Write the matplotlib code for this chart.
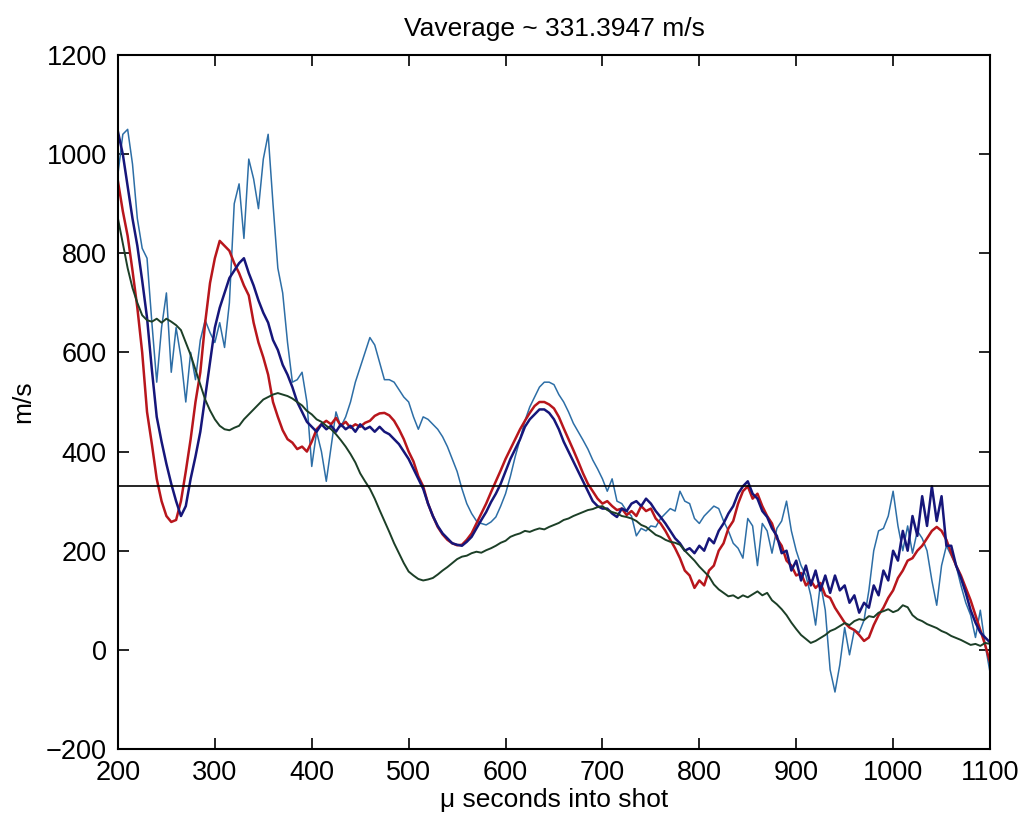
import numpy as np
import matplotlib
matplotlib.use('Agg')
import matplotlib.pyplot as plt

plt.rcParams['font.family'] = ['Liberation Sans', 'DejaVu Sans']

v_average = 331.3947

# time axis, micro seconds into shot (5 us steps)
t_us = np.arange(200, 1101, 5)

red_v = [945, 885, 835, 765, 690, 600, 480, 415, 345, 300,
         270, 258, 262, 300, 360, 425, 500, 560, 660, 740,
         790, 825, 815, 805, 780, 760, 735, 715, 660, 620,
         590, 555, 500, 470, 443, 425, 418, 405, 410, 400,
         420, 445, 455, 462, 455, 468, 452, 460, 448, 455,
         450, 458, 462, 472, 477, 478, 473, 462, 445, 425,
         400, 380, 350, 330, 295, 270, 248, 233, 222, 215,
         211, 212, 222, 235, 255, 275, 295, 318, 340, 362,
         385, 405, 425, 445, 462, 478, 492, 500, 500, 495,
         487, 470, 447, 425, 403, 380, 356, 335, 320, 305,
         295, 300, 290, 282, 285, 272, 280, 270, 290, 280,
         285, 265, 255, 240, 222, 205, 185, 160, 150, 125,
         140, 130, 160, 170, 200, 215, 245, 260, 295, 320,
         330, 305, 315, 290, 270, 255, 225, 210, 180, 170,
         150, 155, 130, 140, 125, 135, 110, 105, 85, 70,
         55, 45, 40, 30, 18, 25, 50, 70, 85, 105,
         120, 145, 160, 180, 185, 200, 210, 225, 240, 248,
         240, 222, 195, 170, 150, 125, 100, 70, 40, 10,
         -25]

navy_v = [1045, 1000, 935, 870, 815, 745, 670, 565, 470, 420,
          375, 335, 300, 270, 290, 345, 390, 440, 510, 580,
          650, 690, 720, 750, 765, 780, 790, 760, 735, 705,
          680, 660, 625, 605, 575, 555, 530, 500, 480, 460,
          450, 440, 455, 445, 452, 440, 455, 445, 452, 440,
          455, 445, 450, 440, 450, 440, 435, 425, 415, 400,
          385, 365, 345, 325, 295, 270, 250, 235, 225, 215,
          212, 210, 218, 228, 245, 262, 278, 298, 315, 335,
          360, 385, 405, 425, 450, 465, 475, 485, 485, 478,
          465, 445, 420, 400, 380, 360, 340, 320, 300, 290,
          285, 285, 275, 268, 285, 280, 295, 300, 290, 305,
          295, 280, 268, 255, 240, 225, 215, 200, 205, 195,
          210, 200, 225, 215, 240, 255, 275, 290, 315, 330,
          340, 315, 305, 280, 268, 245, 230, 195, 200, 160,
          180, 140, 170, 130, 160, 120, 150, 115, 150, 120,
          130, 95, 110, 75, 95, 85, 130, 110, 160, 140,
          200, 180, 240, 200, 270, 230, 310, 250, 330, 260,
          310, 210, 210, 170, 145, 115, 80, 55, 35, 25,
          15]

steel_v = [960, 1040, 1050, 980, 870, 810, 790, 660, 540, 650,
           720, 560, 650, 590, 500, 600, 545, 625, 665, 640,
           620, 660, 610, 700, 900, 940, 830, 990, 950, 890,
           990, 1040, 900, 770, 720, 620, 540, 545, 560, 500,
           370, 440, 400, 340, 410, 480, 450, 470, 500, 540,
           570, 600, 630, 615, 580, 545, 545, 540, 525, 510,
           500, 470, 445, 470, 465, 455, 445, 430, 410, 385,
           360, 325, 295, 275, 260, 255, 252, 258, 268, 290,
           315, 350, 390, 425, 462, 490, 510, 530, 540, 540,
           535, 515, 500, 480, 457, 440, 423, 405, 383, 365,
           345, 320, 345, 300, 295, 280, 270, 230, 245, 240,
           250, 248, 265, 275, 285, 280, 320, 300, 295, 265,
           255, 270, 280, 290, 285, 260, 240, 215, 205, 185,
           265, 250, 170, 255, 240, 195, 245, 260, 300, 240,
           200, 170, 150, 110, 50, 135, 80, -40, -85, -30,
           45, -10, 40, 35, 60, 120, 200, 240, 245, 270,
           320, 250, 200, 250, 195, 240, 225, 200, 140, 90,
           170, 210, 190, 170, 130, 95, 70, 25, 80, 10,
           -45]

green_v = [870, 820, 770, 730, 700, 675, 665, 662, 668, 660,
           668, 662, 655, 645, 620, 595, 565, 535, 505, 483,
           465, 452, 445, 443, 448, 452, 465, 475, 485, 495,
           505, 510, 515, 518, 515, 512, 507, 500, 493, 482,
           475, 465, 460, 452, 445, 435, 423, 410, 395, 378,
           356, 340, 325, 305, 282, 260, 238, 215, 195, 175,
           158, 150, 143, 140, 142, 145, 152, 160, 167, 175,
           183, 188, 190, 195, 198, 196, 201, 205, 210, 216,
           220, 228, 232, 235, 240, 238, 242, 245, 243, 248,
           252, 256, 262, 265, 270, 274, 278, 282, 284, 288,
           290, 282, 278, 275, 270, 268, 265, 260, 252, 248,
           240, 232, 228, 222, 218, 216, 212, 200, 190, 180,
           168, 158, 148, 132, 122, 115, 108, 110, 104, 110,
           106, 112, 118, 110, 115, 100, 92, 82, 70, 55,
           42, 30, 22, 14, 18, 24, 30, 38, 42, 48,
           54, 50, 58, 62, 60, 68, 66, 75, 78, 82,
           76, 80, 90, 86, 70, 62, 58, 52, 48, 44,
           38, 34, 28, 24, 20, 15, 10, 12, 8, 14,
           12]

fig = plt.figure(figsize=(10.24, 8.23), dpi=100)
ax = fig.add_axes([0.1152, 0.0899, 0.8516, 0.8433])

ax.plot(t_us, steel_v, color='#2d6ea6', lw=1.1)
ax.plot(t_us, red_v, color='#b8161c', lw=1.8)
ax.plot(t_us, navy_v, color='#16167a', lw=1.8)
ax.plot(t_us, green_v, color='#1c3f27', lw=1.4)
ax.plot([200, 1100], [v_average, v_average], color='black', lw=1.2)

ax.set_xlim(200, 1100)
ax.set_ylim(-200, 1200)
ax.set_xticks(np.arange(200, 1101, 100))
ax.set_yticks(np.arange(-200, 1201, 200))
ax.tick_params(direction='in', length=8, width=1.2, top=True, right=True,
               labelsize=19.5, pad=8)
for sp in ax.spines.values():
    sp.set_linewidth(1.5)

ax.set_title('Vaverage ~ %.4f m/s' % v_average, fontsize=19, pad=14)
ax.set_xlabel('\u03bc seconds into shot', fontsize=19, labelpad=1)
ax.set_ylabel('m/s', fontsize=19, labelpad=8)

fig.savefig('out.png', dpi=100)
